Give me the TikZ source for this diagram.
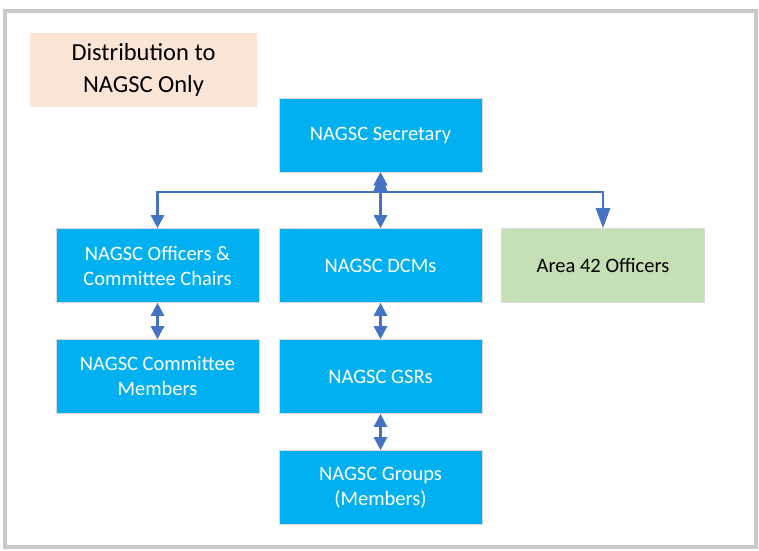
\documentclass[tikz,border=0pt]{standalone}
\usepackage{fontspec}
\setmainfont{Carlito}
\usetikzlibrary{arrows.meta}
\definecolor{boxblue}{HTML}{00B0F0}
\definecolor{boxgreen}{HTML}{C5E0B4}
\definecolor{notepink}{HTML}{FBE5D6}
\definecolor{linkblue}{HTML}{4472C4}
\definecolor{framegray}{HTML}{C9C9C9}
\tikzset{
  unit/.style={rectangle, draw=black!15, line width=0.6pt, fill=boxblue, text=white,
    minimum width=203pt, minimum height=74pt, inner sep=0pt, align=center,
    font=\fontsize{20.5}{25}\selectfont},
  link/.style={linkblue, line width=2.6pt, {Triangle[width=13pt,length=13pt]}-{Triangle[width=13pt,length=13pt]}},
  biglink/.style={linkblue, line width=2.6pt, {Triangle[width=14pt,length=20pt]}-{Triangle[width=14pt,length=20pt]}}
}
\begin{document}
\begin{tikzpicture}[x=1pt,y=-1pt]
		\useasboundingbox (0,0) rectangle (759,550);
		% Frame
		\draw[framegray, line width=4pt] (4.7,10.5) rectangle (756.3,547);
		% Nodes
		\node[rectangle, fill=notepink, minimum width=227pt, minimum height=74pt, inner sep=0pt, align=center,
		  font=\fontsize{24.5}{32}\selectfont] (note) at (143.5,70) {Distribution to\\NAGSC Only};
		\node[unit] (secretary) at (380.5,135) {NAGSC Secretary};
		\node[unit] (officers) at (157.5,265.5) {NAGSC Officers \&\\Committee Chairs};
		\node[unit] (dcms) at (380.5,265.5) {NAGSC DCMs};
		\node[unit, fill=boxgreen, text=black] (area) at (603,265.5) {Area 42 Officers};
		\node[unit] (members) at (157.5,376.5) {NAGSC Committee\\Members};
		\node[unit] (gsrs) at (380.5,376.5) {NAGSC GSRs};
		\node[unit] (groups) at (380.5,487.5) {NAGSC Groups\\(Members)};
		\coordinate (split) at (380.5,192);
		% Arrows
		\draw[link] (secretary.south) -- (split) -| (officers.north);
		\draw[link] (secretary.south) -- (dcms.north);
		\draw[biglink] (secretary.south) -- (split) -| (area.north);
		\draw[link] (officers) -- (members);
		\draw[link] (dcms) -- (gsrs);
		\draw[link] (gsrs) -- (groups);
	\end{tikzpicture}
\end{document}
